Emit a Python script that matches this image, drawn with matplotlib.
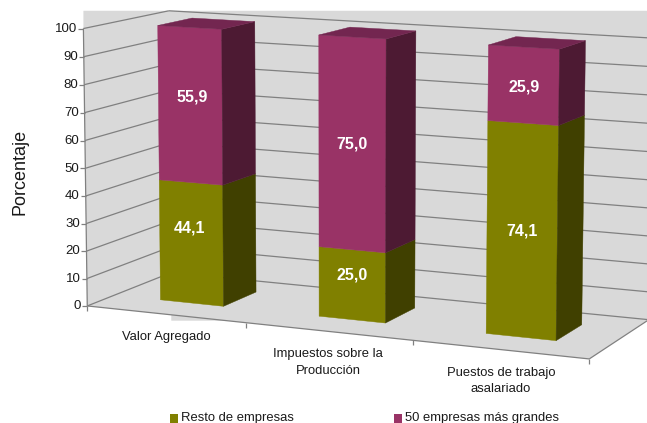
import numpy as np
import matplotlib
matplotlib.use('Agg')
import matplotlib.pyplot as plt
from matplotlib.patches import Polygon, Rectangle

categories = ['Valor Agregado', 'Impuestos sobre la\nProducción', 'Puestos de trabajo\nasalariado']
resto = [44.1, 25.0, 74.1]
grandes = [55.9, 75.0, 25.9]
series_names = ['Resto de empresas', '50 empresas más grandes']
yticks = list(range(0, 101, 10))

# fitted oblique camera: (category axis, value, depth) -> pixel
CAMERA = np.array([
    [152.40846805524106, -0.05103618117536127, 94.43345024347185, 87.25782208183502],
    [8.571349906827141, -2.7783143988915686, -16.83746127219912, 305.94916883265097],
    [-0.025326145207291893, -0.00014946924486172421, 0.06075664674719824, 1.0]])
HALF, W0, W1 = 0.2017, 0.3131, 0.7263

PURPLE = ('#993366', '#4d1a33', '#732650')
OLIVE = ('#808000', '#404000', '#606000')
WALL = '#d9d9d9'
GRID = '#808080'
TEXT = '#1a1a1a'
# label nudges in pixels, per bar: (olive, purple)
LABEL_DX = [(-2, 2), (0, 0), (0, 1)]
LABEL_DY = [(-15, -8), (-9.5, 0), (0, 1.5)]
CAT_DX = [1, 0, 1]
CAT_DY = [17, 17, 17]


def pr(u, v, w):
    X = CAMERA @ np.array([u, v, w, 1.0])
    return X[:2] / X[2]


plt.rcParams['font.family'] = ['Liberation Sans', 'DejaVu Sans']
fig = plt.figure(figsize=(6.47, 4.23), dpi=100)
ax = fig.add_axes([0, 0, 1, 1])
ax.set_xlim(0, 647)
ax.set_ylim(423, 0)
ax.axis('off')

# wall backdrop
f0, fu, fb, fr = pr(0, 0, 0), pr(1, 0, 0), pr(3, 0, 0), pr(3, 0, 1)
t0, tb = pr(0, 100, 0), pr(0, 100, 1)
top_y = tb[1]
strip_y = fu[1] - 2
strip_x = pr(0, 0, 1)[0]
floor_at = lambda x: f0[1] + (x - f0[0]) * (fb[1] - f0[1]) / (fb[0] - f0[0])
strip_end = f0[0] + (strip_y - f0[1]) * (fb[0] - f0[0]) / (fb[1] - f0[1])
ax.add_patch(Polygon([(t0[0], top_y), (648, top_y), (648, fr[1]), tuple(fb),
                      (strip_end, strip_y), (strip_x, strip_y), (strip_x, floor_at(strip_x)),
                      tuple(f0), tuple(t0)], closed=True, fc=WALL, ec='none', zorder=1))


def seg(a, b, lw=0.9, color=GRID, z=2):
    ax.plot([a[0], b[0]], [a[1], b[1]], color=color, lw=lw, zorder=z, solid_capstyle='butt')


# gridlines on side and back walls, value ticks and labels
for v in yticks:
    seg(pr(0, v, 0), pr(0, v, 1))
    seg(pr(0, v, 1), pr(3, v, 1))
    p = pr(0, v, 0)
    seg((p[0] - 5, p[1]), p)
    ax.text(p[0] - 6, p[1] + 0.3, str(v), ha='right', va='center', fontsize=9.5, color=TEXT, zorder=5)
seg(pr(0, 0, 0), pr(0, 100, 0))
seg(pr(0, 0, 0), pr(3, 0, 0))
seg(pr(3, 0, 0), pr(3, 0, 1))
for u in range(4):
    p = pr(u, 0, 0)
    seg(p, (p[0], p[1] + 5))


def box(c, v0, v1, cols, z, top=False):
    l, r = c - HALF, c + HALF
    for pts, col in [([(l, v0, W0), (r, v0, W0), (r, v1, W0), (l, v1, W0)], cols[0]),
                     ([(r, v0, W0), (r, v0, W1), (r, v1, W1), (r, v1, W0)], cols[1])] + (
            [([(l, v1, W0), (r, v1, W0), (r, v1, W1), (l, v1, W1)], cols[2])] if top else []):
        ax.add_patch(Polygon([pr(*q) for q in pts], closed=True, fc=col, ec=col, lw=0.3, zorder=z))


for i, (a, b) in enumerate(zip(resto, grandes)):
    c = i + 0.5
    box(c, 0, a, OLIVE, 3)
    box(c, a, a + b, PURPLE, 3, top=True)
    for j, (v0, val) in enumerate(((0, a), (a, b))):
        p = pr(c, v0 + val / 2, W0)
        ax.text(p[0] + LABEL_DX[i][j], p[1] + LABEL_DY[i][j], f'{val:.1f}'.replace('.', ','),
                ha='center', va='center', color='white', fontsize=11.5, fontweight='bold', zorder=6)

# category labels
for i, cat in enumerate(categories):
    p = pr(i + 0.5, 0, 0)
    ax.text(p[0] + CAT_DX[i], p[1] + CAT_DY[i], cat, ha='center', va='top', fontsize=9.4,
            linespacing=1.5, color=TEXT, zorder=5)

# legend
for x, name, col in [(170, series_names[0], OLIVE[0]), (394, series_names[1], PURPLE[0])]:
    ax.add_patch(Rectangle((x, 414), 8, 9, fc=col, ec='none', zorder=5))
    ax.text(x + 11, 418, name, ha='left', va='center', fontsize=9.4, color=TEXT, zorder=5)

ax.text(19.5, 172, 'Porcentaje', rotation=90, ha='center', va='center', fontsize=13, color=TEXT)

fig.savefig('out.png', dpi=100)
